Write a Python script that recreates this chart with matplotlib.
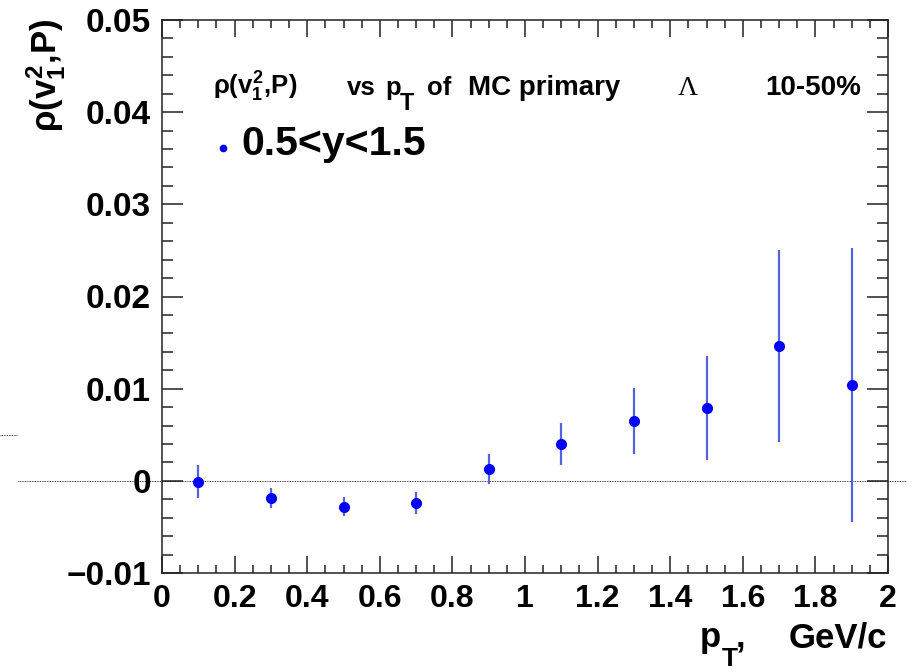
import matplotlib
matplotlib.use("Agg")
import matplotlib.pyplot as plt
import matplotlib.transforms as mtransforms
import numpy as np

# ---- data ----
pt = [0.1, 0.3, 0.5, 0.7, 0.9, 1.1, 1.3, 1.5, 1.7, 1.9]
rho = [-0.0001, -0.0019, -0.0028, -0.0024, 0.0013, 0.0040, 0.0065, 0.0079, 0.0146, 0.0104]
rho_err = [0.0018, 0.0011, 0.00105, 0.00117, 0.0016, 0.0023, 0.0036, 0.0056, 0.0104, 0.0149]

xticks = [0, 0.2, 0.4, 0.6, 0.8, 1.0, 1.2, 1.4, 1.6, 1.8, 2.0]
xticklabels = ["0", "0.2", "0.4", "0.6", "0.8", "1", "1.2", "1.4", "1.6", "1.8", "2"]
yticks = [-0.01, 0.0, 0.01, 0.02, 0.03, 0.04, 0.05]
yticklabels = ["\u22120.01", "0", "0.01", "0.02", "0.03", "0.04", "0.05"]

title_rho = r"$\rho(v_{1}^{2}{,}P)$"
title_words = ["vs", "p", "T", "of", "MC primary"]
title_lambda = "\u039b"
title_cent = "10-50%"
legend_text = "0.5<y<1.5"
xlabel_parts = ["p", "T", ","]
xlabel_unit = "GeV/c"
ylabel_text = r"$\rho(v_{1}^{2}{,}P)$"

plt.rcParams["font.family"] = ["Liberation Sans", "DejaVu Sans"]
plt.rcParams["font.weight"] = "bold"
plt.rcParams["mathtext.fontset"] = "custom"
plt.rcParams["mathtext.rm"] = "Liberation Sans:bold"
plt.rcParams["mathtext.it"] = "Liberation Sans:bold"
plt.rcParams["mathtext.bf"] = "Liberation Sans:bold"
plt.rcParams["mathtext.sf"] = "Liberation Sans:bold"

W, H = 907, 672
fig = plt.figure(figsize=(W / 100, H / 100), dpi=100)
L, R, T, B = 162, 888, 20, 573
ax = fig.add_axes([L / W, 1 - B / H, (R - L) / W, (B - T) / H])

ax.set_xlim(0, 2)
ax.set_ylim(-0.01, 0.05)

ax.errorbar(pt, rho, yerr=rho_err, fmt="o", color="#0000ff", ms=7,
            ecolor="#5363e0", elinewidth=1.6, capsize=0, zorder=3)

# dotted zero line extending past the frame
blend = mtransforms.blended_transform_factory(fig.transFigure, ax.transData)
ax.plot([18 / W, 1.0], [0, 0], transform=blend, color="black", lw=0.6,
        ls=(0, (1, 1)), clip_on=False, zorder=2)
ax.plot([0.0, 17 / W], [0.005, 0.005], transform=blend, color="black", lw=0.6,
        ls=(0, (1, 1)), clip_on=False, zorder=2)

ax.set_xticks(xticks)
ax.set_xticklabels(xticklabels)
ax.set_yticks(yticks)
ax.set_yticklabels(yticklabels)
ax.set_xticks(np.arange(0, 2.0001, 0.05), minor=True)
ax.set_yticks(np.arange(-0.01, 0.05001, 0.002), minor=True)

ax.tick_params(which="both", direction="in", top=True, right=True, width=1.1, color="#222222")
ax.tick_params(axis="x", which="major", length=12, labelsize=23, pad=8)
ax.tick_params(axis="x", which="minor", length=6)
ax.tick_params(axis="y", which="major", length=15, labelsize=24, pad=8)
ax.tick_params(axis="y", which="minor", length=8)
for lab in ax.get_xticklabels() + ax.get_yticklabels():
    lab.set_fontweight("bold")

for s in ax.spines.values():
    s.set_linewidth(1.1)
    s.set_color("#222222")

# x axis title: p with a lowered T subscript, comma, unit
fig.text(700 / W, 1 - 647 / H, xlabel_parts[0], ha="left", va="baseline", fontsize=25, fontweight="bold")
fig.text(722 / W, 1 - 671 / H, xlabel_parts[1], ha="left", va="bottom", fontsize=19, fontweight="bold")
fig.text(736 / W, 1 - 647 / H, xlabel_parts[2], ha="left", va="baseline", fontsize=25, fontweight="bold")
fig.text(887 / W, 1 - 647 / H, xlabel_unit, ha="right", va="baseline", fontsize=25, fontweight="bold")
# y axis title
fig.text(46 / W, 1 - 19 / H, ylabel_text, rotation=90, ha="center", va="top", fontsize=25, fontweight="bold")

# in-plot title (word groups placed as in the original) and legend
tb = 1 - 95 / H
fig.text(213 / W, tb, title_rho, ha="left", va="baseline", fontsize=18.5, fontweight="bold")
word_x = [347, 385, 400, 427, 468]
word_dy = [0, 0, 15, 0, 0]
word_fs = [18.5, 18.5, 17, 18.5, 20]
for xpix, dy, fs, w in zip(word_x, word_dy, word_fs, title_words):
    fig.text(xpix / W, 1 - (95 + dy) / H, w, ha="left", va="baseline", fontsize=fs, fontweight="bold")
fig.text(688 / W, tb, title_lambda, ha="center", va="baseline", fontsize=20,
         fontweight="normal", family=["Liberation Serif", "DejaVu Serif"])
fig.text(861 / W, tb, title_cent, ha="right", va="baseline", fontsize=20, fontweight="bold")

ax.plot([223 / W], [1 - 148 / H], "o", color="#0000ff", ms=4.5, transform=fig.transFigure, clip_on=False)
fig.text(241 / W, 1 - 155 / H, legend_text, ha="left", va="baseline", fontsize=29.5, fontweight="bold")

fig.savefig("out.png", dpi=100)
